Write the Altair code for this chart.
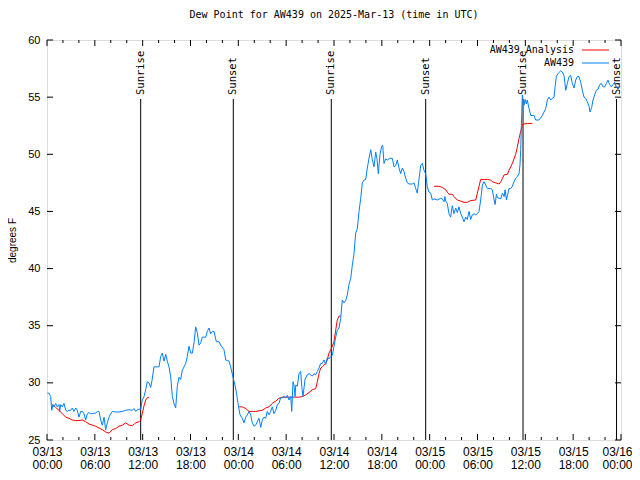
import altair as alt
import pandas as pd

TITLE = "Dew Point for AW439 on 2025-Mar-13 (time in UTC)"
SERIES_NAMES = ["AW439 Analysis", "AW439"]
SERIES_COLORS = ["#ff0000", "#0080ff"]
Y_TITLE = "degrees F"

# hours since 2025-03-13 00:00 UTC
obs_h_day1 = [0.04, 0.25, 0.46, 0.59, 0.75, 0.88, 1.09, 1.29, 1.51, 1.59,
              1.72, 1.92, 2.13, 2.35, 2.55, 2.76, 2.97, 3.17, 3.39, 3.60,
              3.80, 4.01, 4.23, 4.43, 4.64, 4.85, 5.06, 5.27, 5.48, 5.68,
              5.90, 6.11, 6.31, 6.52, 6.74, 6.94, 7.15, 7.36, 7.56, 7.78,
              7.99, 8.19, 8.62, 9.03, 9.45, 9.87, 10.29, 10.70, 10.91, 11.13,
              11.33, 11.54, 11.75,
              11.95, 12.17, 12.38, 12.58, 12.79, 13.01, 13.17, 13.42, 13.84, 14.05,
              14.26, 14.46, 14.68, 14.89, 15.09, 15.30, 15.52, 15.72, 15.93, 16.14,
              16.34, 16.56, 16.77, 16.97, 17.19, 17.40, 17.60, 17.81, 18.03, 18.23,
              18.44, 18.65, 18.85, 19.07, 19.28, 19.48, 19.91, 20.11, 20.32, 20.53,
              20.74, 20.95, 21.24, 21.58, 21.79, 22.20, 22.42, 22.83, 23.04, 23.33,
              23.58, 23.77, 23.96]
obs_v_day1 = [29.1, 29.1, 28.8, 27.6, 28.1, 27.9, 28.2, 27.9, 28.1, 27.5,
              28.1, 27.9, 28.2, 27.6, 27.5, 27.6, 27.6, 27.8, 27.5, 27.8,
              27.6, 27.0, 27.5, 27.5, 27.3, 26.75, 27.3, 27.4, 27.3, 27.3,
              27.35, 27.35, 27.5, 27.5, 26.75, 26.3, 27.0, 25.9, 26.5, 27.0,
              27.3, 27.5, 27.45, 27.45, 27.5, 27.6, 27.65, 27.6, 27.75, 27.5,
              27.65, 27.7, 27.7,
              28.5, 28.8, 29.4, 30.1, 30.0, 29.6, 30.2, 31.4, 31.4, 31.4,
              32.3, 32.6, 31.9, 32.5, 31.9, 31.4, 30.5, 28.8, 28.2, 27.8,
              29.7, 30.5, 30.3, 31.1, 31.4, 31.7, 32.3, 33.2, 32.6, 32.6,
              33.5, 34.9, 34.4, 33.3, 33.5, 34.0, 34.0, 34.5, 34.8, 34.3,
              34.5, 34.5, 33.6, 33.6, 33.3, 32.9, 32.0, 31.9, 31.4, 30.5,
              29.8, 29.1, 28.2]

obs_h_day2 = [24.21, 24.50, 24.71, 24.93, 25.13, 25.34, 25.55, 25.75, 25.97, 26.18,
              26.38, 26.59, 26.81, 27.01, 27.22, 27.43, 27.63, 27.85, 28.06, 28.26,
              28.47, 28.69, 28.89, 29.10, 29.31, 29.52, 29.73, 29.94, 30.14, 30.36,
              30.57, 30.70, 30.86, 30.98, 31.11, 31.20, 31.40, 31.61, 31.82, 31.95,
              32.11, 32.36, 32.65, 32.87, 33.08, 33.28, 33.49, 33.71, 33.91, 34.12,
              34.33, 34.53, 34.75, 34.96, 35.16, 35.37, 35.59, 35.79, 36.00, 36.21,
              36.41, 36.63, 36.84, 37.04, 37.26, 37.47, 37.67, 37.88, 38.10, 38.30,
              38.51, 38.72, 38.92, 39.14, 39.35, 39.55, 39.77, 39.98, 40.18, 40.39,
              40.61, 40.81, 41.02, 41.23, 41.39, 41.56, 41.77, 41.98, 42.11, 42.27,
              42.49, 42.69, 42.99, 43.31, 43.53, 43.74, 43.94, 44.15, 44.37, 44.57,
              44.78, 44.99, 45.20, 45.41, 45.82, 46.04, 46.25, 46.45, 46.60, 46.75,
              46.88, 47.08, 47.29, 47.50, 47.70, 47.91]
obs_v_day2 = [27.2, 26.9, 26.5, 27.0, 27.2, 27.5, 27.2, 26.5, 26.2, 26.3,
              26.6, 26.9, 26.1, 26.75, 27.0, 26.9, 27.5, 27.2, 27.5, 27.9,
              27.3, 27.6, 28.1, 28.2, 28.7, 28.7, 28.8, 28.7, 28.9, 28.5,
              28.8, 27.5, 30.1, 29.8, 28.8, 29.8, 29.7, 30.8, 31.0, 29.7,
              28.8, 30.3, 30.7, 30.8, 30.7, 30.6, 30.8, 30.7, 31.0, 31.3,
              31.7, 31.7, 32.0, 31.6, 32.2, 32.1, 32.3, 32.4, 33.2, 34.0,
              34.6, 34.8, 35.65, 37.25, 37.0, 37.2, 37.7, 38.6, 39.15, 40.3,
              41.3, 43.1, 43.5, 45.0, 46.15, 47.5, 47.75, 47.8, 48.8, 49.65,
              50.4, 49.5, 48.9, 50.2, 49.6, 48.3, 50.0, 50.7, 50.8, 49.2,
              49.6, 49.5, 49.65, 49.65, 48.9, 49.0, 49.5, 48.8, 48.3, 48.8,
              48.5, 47.9, 47.5, 47.4, 47.4, 47.5, 47.0, 46.6, 47.5, 48.3,
              49.05, 49.2, 48.6, 48.3, 47.2, 46.7]

obs_h_day3 = [48.13, 48.33, 48.54, 48.96, 49.38, 49.58, 49.80, 49.92, 50.01, 50.21,
              50.42, 50.63, 50.84, 51.05, 51.27, 51.47, 51.68, 51.90, 52.10, 52.31,
              52.52, 52.72, 52.94, 53.15, 53.35, 53.56, 53.78, 53.98, 54.19, 54.40,
              54.61, 54.82, 55.03, 55.24, 55.66, 55.86, 56.08, 56.21, 56.37, 56.50,
              56.71, 56.92, 57.13, 57.34, 57.46, 57.63, 57.76, 57.95, 58.17, 58.37,
              58.58, 58.79, 58.99, 59.21, 59.33, 59.42, 59.50, 59.62, 59.84, 59.96,
              60.13, 60.25, 60.46, 60.68, 61.09, 61.30, 61.72, 61.93, 62.13, 62.34,
              62.56, 62.76, 62.97, 63.18, 63.39, 63.60, 63.73, 63.89, 64.14, 64.44,
              64.64, 64.85, 65.07, 65.27, 65.48, 65.69, 65.89, 66.11, 66.32, 66.52,
              66.73, 66.95, 67.15, 67.36, 67.57, 67.77, 67.99, 68.11, 68.32, 68.49,
              68.70, 68.90, 69.12, 69.33, 69.53, 69.74, 69.96, 70.16, 70.37, 70.58,
              70.78, 70.99, 71.21, 71.41, 71.62, 71.83]
obs_v_day3 = [46.6, 46.0, 46.1, 46.0, 46.15, 46.1, 45.85, 46.3, 45.9, 45.7,
              44.8, 44.5, 45.5, 44.8, 45.3, 44.9, 45.4, 44.8, 44.5, 44.1,
              44.5, 44.3, 45.0, 44.3, 44.7, 44.8, 44.7, 44.8, 45.0, 46.0,
              47.3, 47.6, 47.3, 47.0, 47.0, 46.9, 46.0, 45.6, 46.5, 46.2,
              46.15, 46.1, 46.6, 46.3, 46.9, 46.0, 46.4, 47.0, 47.0, 47.2,
              47.6, 47.9, 48.05, 48.3, 49.06, 50.4, 52.5, 55.2, 54.3, 54.8,
              54.4, 54.75, 54.0, 53.4, 53.4, 53.0, 53.0, 53.2, 53.4, 53.7,
              54.0, 54.75, 55.0, 54.75, 54.9, 55.0, 55.9, 56.8, 57.1, 57.3,
              57.2, 56.9, 55.6, 56.2, 56.8, 56.9, 56.2, 55.8, 56.5, 56.8,
              56.8, 56.3, 55.6, 55.0, 54.9, 54.6, 54.2, 53.7, 54.1, 54.75,
              55.2, 55.6, 55.7, 56.1, 56.2, 55.9, 55.9, 56.2, 56.5, 56.1,
              55.9, 56.1, 56.3, 55.9, 55.7, 55.9]

ana_h_1 = [0.66, 1.09, 1.51, 1.92, 2.35, 2.76, 3.17, 3.60, 4.01, 4.43,
           4.85, 5.27, 5.68, 6.11, 6.52, 6.94, 7.36, 7.78, 8.19, 8.62,
           9.03, 9.45, 9.87, 10.29, 10.70, 11.13, 11.54, 11.75, 11.95, 12.17,
           12.38, 12.58, 12.79]
ana_v_1 = [28.1, 27.85, 27.6, 27.3, 27.0, 26.9, 26.75, 26.7, 26.7, 26.75,
           26.6, 26.4, 26.3, 26.2, 26.05, 25.9, 25.7, 25.6, 25.9, 26.0,
           26.2, 26.3, 26.5, 26.3, 26.25, 26.5, 26.6, 26.75, 27.3, 28.0,
           28.5, 28.7, 28.7]
ana_h_2 = [24.1, 24.50, 24.93, 25.34, 25.75, 26.18, 26.59, 27.01, 27.43, 27.85,
           28.26, 28.69, 29.10, 29.52, 29.94, 30.36, 30.77, 31.20, 31.61, 32.02,
           32.45, 32.87, 33.28, 33.71, 33.91, 34.12, 34.33, 34.53, 34.96, 35.16,
           35.37, 35.59, 35.79, 36.00, 36.21, 36.41, 36.63, 36.84]
ana_v_2 = [27.9, 27.9, 27.75, 27.5, 27.5, 27.5, 27.55, 27.6, 27.8, 27.9,
           28.2, 28.4, 28.65, 28.75, 28.75, 28.75, 28.75, 28.75, 28.75, 28.8,
           28.95, 29.15, 29.4, 29.5, 30.1, 30.8, 31.3, 31.4, 31.7, 32.0,
           32.6, 32.9, 33.2, 33.6, 34.6, 35.5, 35.85, 35.85]
ana_h_3 = [48.54, 49.17, 49.58, 50.01, 50.21, 50.42, 50.84, 51.05, 51.47, 51.90,
           52.31, 52.72, 53.15, 53.78, 53.98, 54.19, 54.40, 54.82, 55.24, 55.66,
           55.86, 56.28, 56.71, 56.92, 57.13, 57.34, 57.76, 57.95, 58.17, 58.37,
           58.58, 58.79, 58.99, 59.21, 59.42, 59.62, 59.84, 60.25, 60.88]
ana_v_3 = [47.2, 47.2, 47.1, 46.9, 46.7, 46.5, 46.5, 46.3, 46.0, 45.9,
           45.8, 45.8, 45.95, 46.0, 46.6, 47.2, 47.8, 47.8, 47.8, 47.75,
           47.6, 47.5, 47.4, 47.6, 47.9, 48.2, 48.25, 48.6, 48.9, 49.2,
           49.6, 50.0, 50.6, 51.4, 52.0, 52.6, 52.65, 52.7, 52.7]

sun_hours = [11.75, 23.37, 35.66, 47.50, 59.71, 71.44]
sun_labels = ["Sunrise", "Sunset", "Sunrise", "Sunset", "Sunrise", "Sunset"]

x_major = [0, 6, 12, 18, 24, 30, 36, 42, 48, 54, 60, 66, 72]
x_minor = [2, 4, 8, 10, 14, 16, 20, 22, 26, 28, 32, 34, 38, 40, 44, 46,
           50, 52, 56, 58, 62, 64, 68, 70]
y_major = [25, 30, 35, 40, 45, 50, 55, 60]

W, H = 574, 400
MONO = "DejaVu Sans Mono"
SANS = "Liberation Sans"

obs_df = pd.DataFrame({"h": obs_h_day1 + obs_h_day2 + obs_h_day3,
                       "v": obs_v_day1 + obs_v_day2 + obs_v_day3})
ana_df = pd.concat([
    pd.DataFrame({"h": ana_h_1, "v": ana_v_1, "seg": 1}),
    pd.DataFrame({"h": ana_h_2, "v": ana_v_2, "seg": 2}),
    pd.DataFrame({"h": ana_h_3, "v": ana_v_3, "seg": 3}),
], ignore_index=True)
sun_df = pd.DataFrame({"h": sun_hours, "label": sun_labels})

label_expr = ("[utcFormat(utc(2025,2,13) + datum.value*3600000, '%m/%d'), "
              "utcFormat(utc(2025,2,13) + datum.value*3600000, '%H:%M')]")

x_axis = alt.Axis(values=x_major, labelExpr=label_expr, ticks=False, domain=False,
                  grid=False, labelFont=SANS, labelFontSize=12, labelColor="black",
                  labelPadding=6, labelLineHeight=13, labelFlush=False,
                  labelOverlap=False, title=None,
                  labelOffset={"condition": {"test": "datum.value >= 72", "value": -4},
                               "value": 0})
y_axis = alt.Axis(values=y_major, ticks=False, domain=False, grid=False,
                  labelFont=SANS, labelFontSize=11, labelColor="black",
                  labelPadding=7, labelFlush=False, labelOverlap=False,
                  title=Y_TITLE, titleFont=SANS, titleFontSize=10,
                  titleFontWeight="normal", titleColor="black", titlePadding=10)

X = alt.X("h:Q", scale=alt.Scale(domain=[0, 72], nice=False, zero=False), axis=x_axis)
Y = alt.Y("v:Q", scale=alt.Scale(domain=[25, 60], nice=False, zero=False), axis=y_axis)

layers = []

# sunrise / sunset markers
layers.append(alt.Chart(sun_df).mark_rule(color="black", strokeWidth=1).encode(
    x=X, y=alt.value(59), y2=alt.value(H)))
layers.append(alt.Chart(sun_df).mark_text(angle=270, align="left", baseline="middle",
                                          font=MONO, fontSize=10.5, color="black").encode(
    x=X, y=alt.value(55), text="label:N"))

# inward ticks
xmaj = pd.DataFrame({"h": x_major})
xmin = pd.DataFrame({"h": x_minor})
ymaj = pd.DataFrame({"v": y_major})
for df, ln in ((xmaj, 6), (xmin, 3)):
    layers.append(alt.Chart(df).mark_rule(color="black").encode(
        x=X, y=alt.value(H), y2=alt.value(H - ln)))
    layers.append(alt.Chart(df).mark_rule(color="black").encode(
        x=X, y=alt.value(0), y2=alt.value(ln)))
layers.append(alt.Chart(ymaj).mark_rule(color="black").encode(
    y=Y, x=alt.value(0), x2=alt.value(6)))
layers.append(alt.Chart(ymaj).mark_rule(color="black").encode(
    y=Y, x=alt.value(W), x2=alt.value(W - 6)))

# data lines
layers.append(alt.Chart(ana_df).mark_line(color=SERIES_COLORS[0], strokeWidth=1).encode(
    x=X, y=Y, detail="seg:N"))
layers.append(alt.Chart(obs_df).mark_line(color=SERIES_COLORS[1], strokeWidth=1).encode(
    x=X, y=Y))

# legend
for i, (name, color) in enumerate(zip(SERIES_NAMES, SERIES_COLORS)):
    ly = 10 + 13 * i
    ldf = pd.DataFrame({"name": [name]})
    layers.append(alt.Chart(ldf).mark_text(align="right", baseline="middle", font=MONO,
                                           fontSize=10, color="black").encode(
        x=alt.value(527), y=alt.value(ly), text="name:N"))
    layers.append(alt.Chart(ldf).mark_rule(color=color, strokeWidth=1).encode(
        x=alt.value(535), x2=alt.value(562), y=alt.value(ly)))

chart = alt.layer(*layers).properties(
    width=W, height=H,
    title=alt.TitleParams(TITLE, font=MONO, fontSize=10, fontWeight="normal",
                          color="black", anchor="middle", frame="group", offset=14),
    padding={"left": 39, "top": 32, "right": 11, "bottom": 32},
    autosize=alt.AutoSizeParams(type="none"),
).configure_view(stroke="black", strokeWidth=1).configure(background="white")

chart.save("out.html", embed_options={"renderer": "svg", "actions": False})
